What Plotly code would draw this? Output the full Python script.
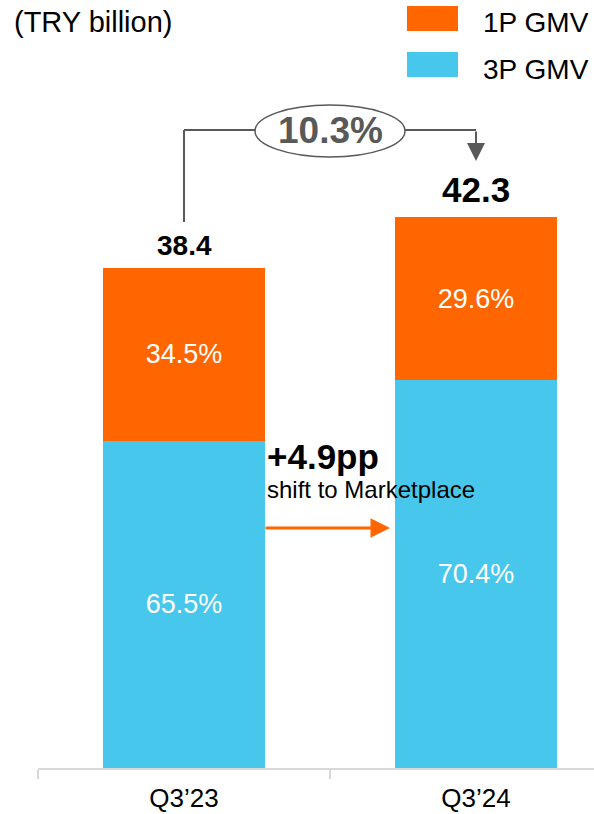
import plotly.graph_objects as go

# ---- data ----
periods = ["Q3\u201923", "Q3\u201924"]
totals = [38.4, 42.3]              # TRY billion
share_1p = [34.5, 29.6]            # % of GMV
share_3p = [65.5, 70.4]            # % of GMV
growth_label = "10.3%"
shift_label = "+4.9pp"
shift_sub = "shift to Marketplace"
unit_label = "(TRY billion)"

val_1p = [t * s / 100 for t, s in zip(totals, share_1p)]
val_3p = [t * s / 100 for t, s in zip(totals, share_3p)]

ORANGE = "#FF6600"
BLUE = "#48C7EC"
GRAY = "#595959"
FONT = "Arial, Liberation Sans, sans-serif"

W, H = 594, 814
ML, MR, MT, MB = 38, 0, 80, 46
PH = H - MT - MB
YMAX = 52.84
PPU = PH / YMAX  # pixels per unit


def ypx(px):
    """page pixel y -> data y"""
    return (H - MB - px) / PPU


def xpx(px):
    """page pixel x -> category index"""
    return (px - ML) / 292.0 - 0.5


def pap_x(px):
    return (px - ML) / (W - ML - MR)


def pap_y(px):
    return (H - MB - px) / PH


fig = go.Figure()
fig.add_trace(go.Bar(
    x=periods, y=val_3p, name="3P GMV", marker=dict(color=BLUE, line=dict(width=0)),
    width=0.555, text=[f"{s}%" for s in share_3p], textposition="inside",
    insidetextanchor="middle", textfont=dict(color="white", size=27, family=FONT),
    constraintext="none", showlegend=False, hoverinfo="skip"))
fig.add_trace(go.Bar(
    x=periods, y=val_1p, name="1P GMV", marker=dict(color=ORANGE, line=dict(width=0)),
    width=0.555, text=[f"{s}%" for s in share_1p], textposition="inside",
    insidetextanchor="middle", textfont=dict(color="white", size=27, family=FONT),
    constraintext="none", showlegend=False, hoverinfo="skip"))

annotations = []
# totals
annotations.append(dict(x=0, y=totals[0], text=f"<b>{totals[0]}</b>", showarrow=False,
                        yanchor="bottom", yshift=5, font=dict(size=28, color="black", family=FONT)))
annotations.append(dict(x=1, y=totals[1], text=f"<b>{totals[1]}</b>", showarrow=False,
                        yanchor="bottom", yshift=6, font=dict(size=35, color="black", family=FONT)))

shapes = []
yb = ypx(130)
# bracket lines
shapes.append(dict(type="line", xref="x", yref="y", x0=0, x1=0, y0=ypx(222), y1=yb,
                   line=dict(color=GRAY, width=2)))
shapes.append(dict(type="line", xref="x", yref="y", x0=0, x1=1, y0=yb, y1=yb,
                   line=dict(color=GRAY, width=2)))
# ellipse
shapes.append(dict(type="circle", xref="x", yref="y", x0=xpx(255), x1=xpx(405),
                   y0=ypx(105), y1=ypx(157), fillcolor="white",
                   line=dict(color=GRAY, width=1.5)))
# down arrow
annotations.append(dict(x=1, y=ypx(161), ax=1, ay=yb, xref="x", yref="y", axref="x", ayref="y",
                        showarrow=True, arrowhead=2, arrowsize=1.8, arrowwidth=2,
                        arrowcolor=GRAY, text=""))
annotations.append(dict(x=0.5, y=ypx(130), text=f"<b>{growth_label}</b>", showarrow=False,
                        yanchor="middle", font=dict(size=37, color=GRAY, family=FONT)))

# orange shift arrow
annotations.append(dict(x=xpx(390), y=ypx(528), ax=xpx(264), ay=ypx(528), xref="x", yref="y",
                        axref="x", ayref="y", showarrow=True, arrowhead=2, arrowsize=1.3,
                        arrowwidth=3, arrowcolor=ORANGE, text=""))
annotations.append(dict(x=xpx(265), y=ypx(456), text=f"<b>{shift_label}</b>", showarrow=False,
                        xanchor="left", yanchor="middle",
                        font=dict(size=35, color="black", family=FONT)))
annotations.append(dict(x=xpx(265), y=ypx(489), text=shift_sub, showarrow=False,
                        xanchor="left", yanchor="middle",
                        font=dict(size=24, color="black", family=FONT)))

# unit label
annotations.append(dict(xref="paper", yref="paper", x=pap_x(12), y=pap_y(22), text=unit_label,
                        showarrow=False, xanchor="left", yanchor="middle",
                        font=dict(size=29, color="black", family=FONT)))

# legend (drawn)
for name, color, top, tc in [("1P GMV", ORANGE, 6, 22), ("3P GMV", BLUE, 52, 69)]:
    shapes.append(dict(type="rect", xref="paper", yref="paper", x0=pap_x(407), x1=pap_x(458),
                       y0=pap_y(top + 25), y1=pap_y(top), fillcolor=color, line=dict(width=0)))
    annotations.append(dict(xref="paper", yref="paper", x=pap_x(481), y=pap_y(tc), text=name,
                            showarrow=False, xanchor="left", yanchor="middle",
                            font=dict(size=28, color="black", family=FONT)))

fig.update_layout(
    width=W, height=H, margin=dict(l=ML, r=MR, t=MT, b=MB),
    barmode="stack", plot_bgcolor="white", paper_bgcolor="white",
    showlegend=False, shapes=shapes, annotations=annotations,
    font=dict(family=FONT),
    xaxis=dict(type="category", range=[-0.5, xpx(W)], showline=True, linecolor="#d9d9d9",
               linewidth=1.5, ticks="outside", tickson="boundaries", ticklen=9,
               tickcolor="#d9d9d9", tickwidth=1.5, showgrid=False, zeroline=False,
               tickfont=dict(size=26, color="black", family=FONT), ticklabelstandoff=6),
    yaxis=dict(range=[0, YMAX], visible=False, showgrid=False, zeroline=False),
)

fig.write_html("out.html", config={"displayModeBar": False},
               post_script="document.body.style.margin='0';document.body.style.overflow='hidden';")
